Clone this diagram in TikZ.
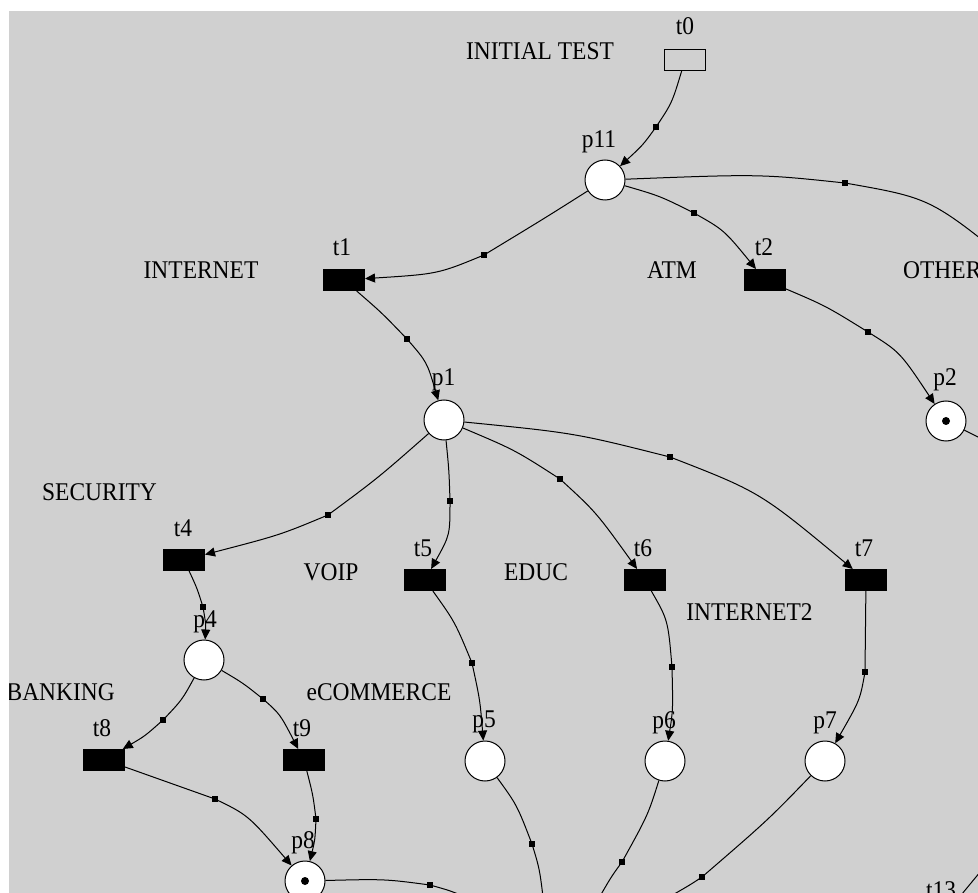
\documentclass[tikz,border=0pt]{standalone}
\usepackage{fontspec}
\setmainfont[FakeStretch=0.92]{Liberation Serif}
\usetikzlibrary{arrows.meta}
\definecolor{panelgray}{RGB}{208,208,208}

\begin{document}
\begin{tikzpicture}[
    x=1pt, y=-1pt,
    font=\fontsize{25.5}{30}\selectfont,
    >={Triangle[length=10pt,width=9pt]},
    placenode/.style={
        circle,
        draw=black,
        line width=1pt,
        fill=white,
        minimum size=40pt,
        inner sep=0pt
    },
    transbox/.style={
        draw=black,
        line width=1pt,
        fill=black,
        minimum width=41pt,
        minimum height=21pt,
        inner sep=0pt
    },
    tokendot/.style={circle, fill=black, minimum size=8pt, inner sep=0pt},
    bendmark/.style={fill=black, minimum size=6pt, inner sep=0pt},
    lbl/.style={anchor=base, inner sep=0pt},
    arc/.style={->, line width=1pt},
    stub/.style={line width=1pt}
]

\useasboundingbox (0,0) rectangle (978,893);
\fill[white] (0,0) rectangle (978,893);
\fill[panelgray] (9,11) rectangle (978,893);

\begin{scope}
\clip (9,11) rectangle (978,893);

% places and transitions
\node[transbox, fill=panelgray] (t0) at (685,60) {};
\node[placenode] (p11) at (605,180) {};
\node[transbox] (t1) at (344,280) {};
\node[transbox] (t2) at (765,280) {};
\node[placenode] (p1) at (444,420) {};
\node[placenode] (p2) at (946,421) {};
\node[tokendot] (k2) at (p2) {};
\node[transbox] (t4) at (184,560) {};
\node[transbox] (t5) at (425,580) {};
\node[transbox] (t6) at (645,580) {};
\node[transbox] (t7) at (866,580) {};
\node[placenode] (p4) at (204,660) {};
\node[transbox] (t8) at (104,760) {};
\node[transbox] (t9) at (304,760) {};
\node[placenode] (p5) at (485,761) {};
\node[placenode] (p6) at (665,761) {};
\node[placenode] (p7) at (825,761) {};
\node[placenode] (p8) at (305,881) {};
\node[tokendot] (k8) at (p8) {};

% names
\node[lbl] (lt0) at (685,35) {t0};
\node[lbl] (lp11) at (599,148) {p11};
\node[lbl] (lt1) at (342,256) {t1};
\node[lbl] (lt2) at (764,256) {t2};
\node[lbl] (lp1) at (443.5,386) {p1};
\node[lbl] (lp2) at (945,386) {p2};
\node[lbl] (lt4) at (183,536) {t4};
\node[lbl] (lt5) at (423,556) {t5};
\node[lbl] (lt6) at (643,556) {t6};
\node[lbl] (lt7) at (864,556) {t7};
\node[lbl] (lp4) at (205,627) {p4};
\node[lbl] (lt8) at (102,736) {t8};
\node[lbl] (lt9) at (302,736) {t9};
\node[lbl] (lp5) at (484,727) {p5};
\node[lbl] (lp6) at (664,728) {p6};
\node[lbl] (lp7) at (825,728) {p7};
\node[lbl] (lp8) at (303,848) {p8};
\node[lbl] (lt13) at (941,898) {t13};

% captions
\node[lbl] (lInit) at (540,60) {INITIAL TEST};
\node[lbl] (lInternet) at (201,279) {INTERNET};
\node[lbl] (lAtm) at (672,279) {ATM};
\node[lbl, anchor=base west] (lOther) at (903,279) {OTHER};
\node[lbl] (lSecurity) at (99.5,500) {SECURITY};
\node[lbl] (lVoip) at (331,580) {VOIP};
\node[lbl] (lEduc) at (536,580) {EDUC};
\node[lbl] (lInternet2) at (749.5,620) {INTERNET2};
\node[lbl, anchor=base east] (lBanking) at (115,700) {BANKING};
\node[lbl] (lEcom) at (379,700) {eCOMMERCE};

% loose ends running off the panel
\coordinate (othr) at (1010,262);
\coordinate (p2out) at (1000,448);
\coordinate (p8out) at (480,905);
\coordinate (p5out) at (545,915);
\coordinate (p6out) at (595,905);
\coordinate (p7out) at (655,905);
\coordinate (t13a) at (957,900);
\coordinate (t13b) at (990,860);

% arcs
\draw[arc] (t0) .. controls (672,103) .. (656,127) node[bendmark] (m1) {} .. controls (643,145) .. (p11);
\draw[arc] (p11) .. controls (545,218) .. (484,255) node[bendmark] (m2) {} .. controls (438,274) .. (t1);
\draw[arc] (p11) .. controls (660,196) .. (694,213) node[bendmark] (m3) {} .. controls (724,230) .. (t2);
\draw[stub] (p11) .. controls (760,174) .. (845,183) node[bendmark] (m4) {} .. controls (930,198) .. (othr);
\draw[arc] (t1) .. controls (382,313) .. (407,339) node[bendmark] (m5) {} .. controls (427,362) .. (p1);
\draw[arc] (t2) .. controls (826,306) .. (868,332) node[bendmark] (m6) {} .. controls (900,352) .. (p2);
\draw[stub] (p2) -- (p2out);
\draw[arc] (p1) .. controls (378,478) .. (328,515) node[bendmark] (m8) {} .. controls (280,535) .. (t4);
\draw[arc] (p1) .. controls (449,470) .. (450,501) node[bendmark] (m9) {} .. controls (450,535) .. (t5);
\draw[arc] (p1) .. controls (515,450) .. (560,479) node[bendmark] (m10) {} .. controls (596,512) .. (t6);
\draw[arc] (p1) .. controls (575,433) .. (670,457) node[bendmark] (m11) {} .. controls (760,492) .. (t7);
\draw[arc] (t4) .. controls (197,588) .. (203,607) node[bendmark] (m12) {} .. controls (206,625) .. (p4);
\draw[arc] (t5) .. controls (455,622) .. (472,663) node[bendmark] (m13) {} .. controls (480,700) .. (p5);
\draw[arc] (t6) .. controls (668,620) .. (672,667) node[bendmark] (m14) {} .. controls (673,710) .. (p6);
\draw[arc] (t7) -- (865,672) node[bendmark] (m15) {} .. controls (860,700) .. (p7);
\draw[arc] (p4) .. controls (182,700) .. (163,720) node[bendmark] (m16) {} .. controls (145,736) .. (t8);
\draw[arc] (p4) .. controls (243,683) .. (263,699) node[bendmark] (m17) {} .. controls (280,714) .. (t9);
\draw[arc] (t8) .. controls (170,782) .. (215,799) node[bendmark] (m18) {} .. controls (248,815) .. (p8);
\draw[arc] (t9) .. controls (313,795) .. (316,819) node[bendmark] (m19) {} .. controls (315,840) .. (p8);
\draw[stub] (p8) .. controls (385,879) .. (430,885) node[bendmark] (m20) {} .. controls (455,892) .. (p8out);
\draw[stub] (p5) .. controls (517,805) .. (532,844) node[bendmark] (m21) {} .. controls (540,870) .. (p5out);
\draw[stub] (p6) .. controls (648,815) .. (622,862) node[bendmark] (m22) {} .. controls (611,877) .. (p6out);
\draw[stub] (p7) .. controls (768,820) .. (702,877) node[bendmark] (m23) {} .. controls (690,885) .. (p7out);
\draw[stub] (t13a) -- (t13b);
\end{scope}

\end{tikzpicture}
\end{document}
